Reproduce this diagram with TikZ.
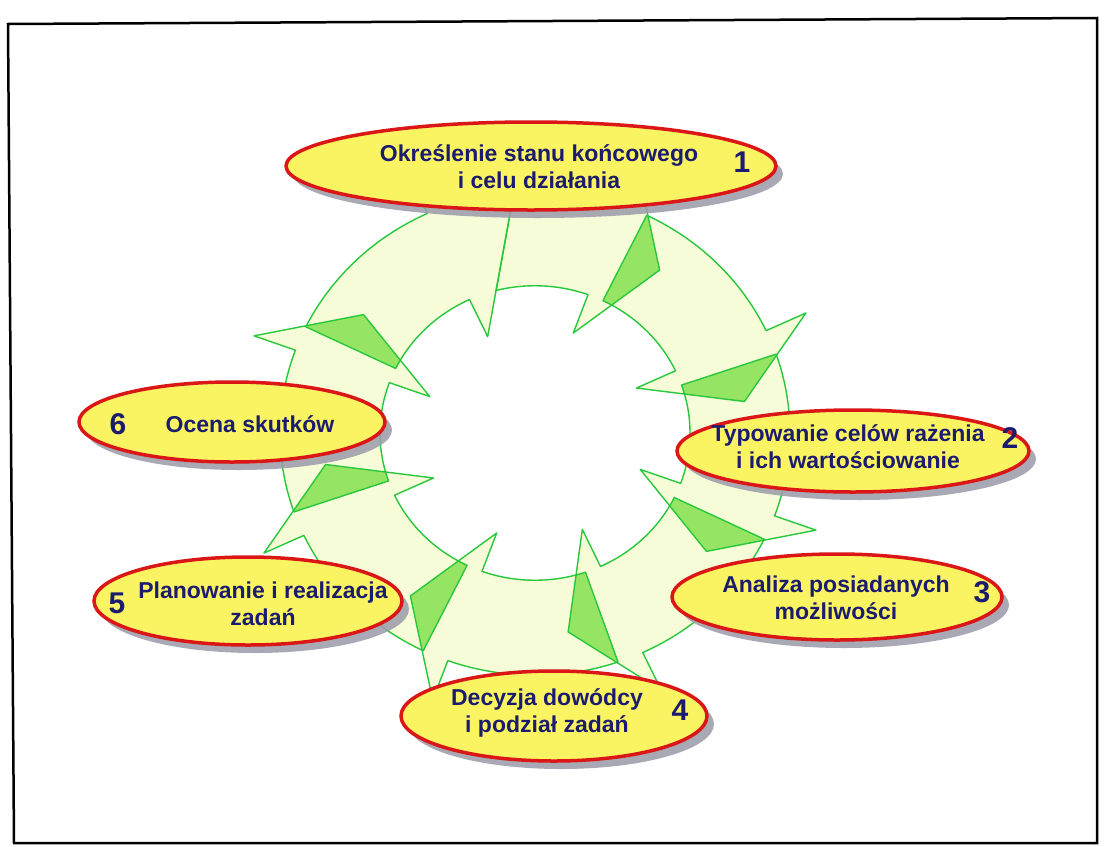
\documentclass[tikz,border=0pt]{standalone}
\usepackage{fontspec}
\setmainfont{Liberation Sans}
\usetikzlibrary{shapes.geometric,shadows}

\definecolor{ringfill}{RGB}{246,251,216}
\definecolor{ringedge}{RGB}{40,200,60}
\definecolor{overlapfill}{RGB}{150,228,100}
\definecolor{ovalfill}{RGB}{250,244,98}
\definecolor{ovaledge}{RGB}{218,22,22}
\definecolor{ovalshadow}{RGB}{155,155,170}
\definecolor{labeltext}{RGB}{28,28,110}

% one curved arrow of the ring:
% #1 tail angle (inner), #2 tail angle (outer), #3 head base angle, #4 tip angle, #5 tip radius
\newcommand\ringarrow[5]{%
  (#1:155) -- (#2:255)
  -- plot[domain=#2:#3,samples=24] (\x:255)
  -- (#3:299) -- (#4:#5) -- (#3:112) -- (#3:155)
  -- plot[domain=#3:#1,samples=24] (\x:155) -- cycle}

\newcommand\arrA{\ringarrow{154}{154}{115}{95}{250}}
\newcommand\arrB{\ringarrow{104.5}{94.7}{70}{54}{212}}
\newcommand\arrC{\ringarrow{64}{64}{25}{9}{212}}
\newcommand\arrD{\ringarrow{19}{19}{-20}{-36}{212}}
\newcommand\arrE{\ringarrow{-26}{-26}{-65}{-81}{212}}
\newcommand\arrF{\ringarrow{-71}{-71}{-110}{-126}{212}}
\newcommand\arrG{\ringarrow{-116}{-116}{-155}{-171}{212}}
\newcommand\arrH{\ringarrow{-161}{-161}{-200}{-216}{212}}

\tikzset{
  ringline/.style={draw=ringedge, line width=1.4pt, line join=round},
  oval/.style={ellipse, draw=ovaledge, line width=3.5pt, fill=ovalfill, inner sep=0pt,
    drop shadow={shadow xshift=7pt, shadow yshift=-8pt, fill=ovalshadow, opacity=0.85}},
  label/.style={font=\fontsize{23}{27}\selectfont\bfseries, text=labeltext, align=center, inner sep=0pt},
  num/.style={font=\fontsize{30}{30}\selectfont\bfseries, text=labeltext, inner sep=0pt}
}

\begin{document}
\begin{tikzpicture}[x=1pt, y=-1pt]
\useasboundingbox (0,0) rectangle (1105,846);
\fill[white] (0,0) rectangle (1105,846);

% page frame
\draw[line width=2.5pt, line join=miter] (8,24) -- (1097,18) -- (1097,843) -- (14,843) -- cycle;

% ring of eight arrows
\begin{scope}[shift={(535,433)}, yscale=-0.95]
  \fill[ringfill] \arrA;
  \fill[ringfill] \arrB;
  \fill[ringfill] \arrC;
  \fill[ringfill] \arrD;
  \fill[ringfill] \arrE;
  \fill[ringfill] \arrF;
  \fill[ringfill] \arrG;
  \fill[ringfill] \arrH;
  % arrow heads lying over the tail of the following arrow
  \begin{scope}\clip \arrC; \fill[overlapfill] \arrB; \end{scope}
  \begin{scope}\clip \arrD; \fill[overlapfill] \arrC; \end{scope}
  \begin{scope}\clip \arrE; \fill[overlapfill] \arrD; \end{scope}
  \begin{scope}\clip \arrF; \fill[overlapfill] \arrE; \end{scope}
  \begin{scope}\clip \arrG; \fill[overlapfill] \arrF; \end{scope}
  \begin{scope}\clip \arrH; \fill[overlapfill] \arrG; \end{scope}
  \begin{scope}\clip \arrA; \fill[overlapfill] \arrH; \end{scope}
  \path[ringline] \arrA;
  \path[ringline] \arrB;
  \path[ringline] \arrC;
  \path[ringline] \arrD;
  \path[ringline] \arrE;
  \path[ringline] \arrF;
  \path[ringline] \arrG;
  \path[ringline] \arrH;
\end{scope}

% step ovals
\node[oval, minimum width=490pt, minimum height=88pt] (s1) at (531,166) {};
\node[label] (t1) at (539,167) {Określenie stanu końcowego\\i celu działania};
\node[num] (n1) at (742,162) {1};

\node[oval, minimum width=352pt, minimum height=82pt] (s2) at (853,451) {};
\node[label] (t2) at (848,447) {Typowanie celów rażenia\\i ich wartościowanie};
\node[num] (n2) at (1010,438) {2};

\node[oval, minimum width=330pt, minimum height=86pt] (s3) at (837,597) {};
\node[label] (t3) at (836,598) {Analiza posiadanych\\możliwości};
\node[num] (n3) at (982,592) {3};

\node[oval, minimum width=306pt, minimum height=90pt] (s4) at (554,716) {};
\node[label] (t4) at (547,713) {Decyzja dowódcy\\i podział zadań};
\node[num] (n4) at (680,710) {4};

\node[oval, minimum width=308pt, minimum height=88pt] (s5) at (248,601) {};
\node[label] (t5) at (263,604) {Planowanie i realizacja\\zadań};
\node[num] (n5) at (117,603) {5};

\node[oval, minimum width=306pt, minimum height=80pt] (s6) at (232,422) {};
\node[label] (t6) at (250,424) {Ocena skutków};
\node[num] (n6) at (118,424) {6};
\end{tikzpicture}
\end{document}
